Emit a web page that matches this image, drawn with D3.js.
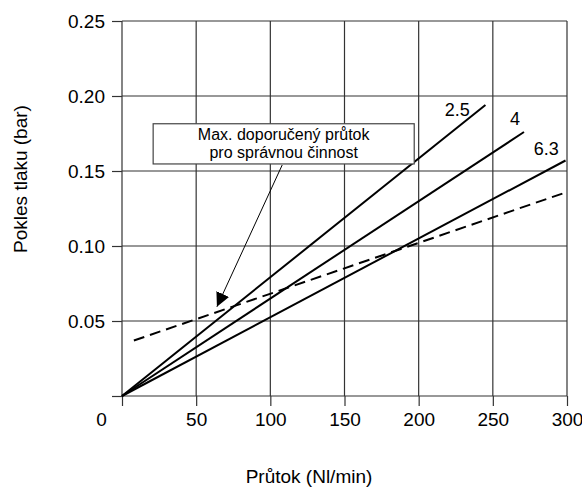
<!DOCTYPE html>
<html>
<head>
<meta charset="utf-8">
<script src="https://cdn.jsdelivr.net/npm/d3@7"></script>
<style>
  body { margin: 0; background: #fff; }
  svg { display: block; font-family: "Liberation Sans", Arial, sans-serif; }
</style>
</head>
<body>
<div id="chart"></div>
<script>
// values
const xTicks = [0, 50, 100, 150, 200, 250, 300];
const yTicks = [0, 0.05, 0.10, 0.15, 0.20, 0.25];

const seriesNames = ["2.5", "4", "6.3"];
const seriesX = [[0, 245], [0, 271], [0, 299]];
const seriesY = [[0, 0.194], [0, 0.176], [0, 0.157]];
// where each series label sits (data units)
const labelX = [226, 265, 286];
const labelY = [0.187, 0.181, 0.161];

// dashed limit line
const limitX = [8, 300];
const limitY = [0.037, 0.136];

const noteLines = ["Max. doporučený průtok", "pro správnou činnost"];
const noteBox = { x0: 21, x1: 197, y0: 0.1815, y1: 0.1547 };
const arrowFrom = [108, 0.154];
const arrowTo = [64, 0.0595];

const width = 582, height = 489;
const margin = { top: 21, right: 15, bottom: 93, left: 122 };

const x = d3.scaleLinear().domain([0, 300]).range([margin.left, width - margin.right]);
const y = d3.scaleLinear().domain([0, 0.25]).range([height - margin.bottom, margin.top]);

const svg = d3.select("#chart").append("svg")
    .attr("width", width)
    .attr("height", height);

svg.append("defs").append("marker")
    .attr("id", "head")
    .attr("viewBox", "0 0 10 10")
    .attr("refX", 10).attr("refY", 5)
    .attr("markerWidth", 14).attr("markerHeight", 14)
    .attr("markerUnits", "userSpaceOnUse")
    .attr("orient", "auto")
    .append("path")
    .attr("d", "M0,0 L10,5 L0,10 Z")
    .attr("fill", "#000");

// grid
const grid = svg.append("g").attr("class", "grid");
grid.selectAll("line.v").data(xTicks).enter().append("line")
    .attr("x1", d => x(d)).attr("x2", d => x(d))
    .attr("y1", y(0.25)).attr("y2", y(0))
    .attr("stroke", "#333").attr("stroke-width", 1.2);
grid.selectAll("line.h").data(yTicks).enter().append("line")
    .attr("x1", x(0)).attr("x2", x(300))
    .attr("y1", d => y(d)).attr("y2", d => y(d))
    .attr("stroke", "#333").attr("stroke-width", 1.2);

// axes
const xAxis = svg.append("g")
    .attr("transform", `translate(0, ${y(0)})`)
    .call(d3.axisBottom(x).tickValues(xTicks).tickSize(10).tickPadding(7).tickFormat(d3.format("d")));
xAxis.select(".domain").remove();
xAxis.selectAll("text").filter(d => d === 0).attr("dx", -21);

const yAxis = svg.append("g")
    .attr("transform", `translate(${x(0)}, 0)`)
    .call(d3.axisLeft(y).tickValues(yTicks).tickSize(10).tickPadding(7)
        .tickFormat(d => d === 0 ? "" : d3.format(".2f")(d)));
yAxis.select(".domain").remove();

svg.selectAll(".tick line").attr("stroke", "#333").attr("stroke-width", 1.2);
svg.selectAll(".tick text")
    .attr("fill", "#000")
    .style("font-size", "19px")
    .style("font-family", "'Liberation Sans', Arial, sans-serif");

// lines
const line = d3.line().x(d => x(d[0])).y(d => y(d[1]));

seriesNames.forEach((name, i) => {
    const pts = seriesX[i].map((v, j) => [v, seriesY[i][j]]);
    svg.append("path")
        .datum(pts)
        .attr("d", line)
        .attr("fill", "none")
        .attr("stroke", "#000")
        .attr("stroke-width", 2);
    svg.append("text")
        .attr("x", x(labelX[i]))
        .attr("y", y(labelY[i]))
        .attr("text-anchor", "middle")
        .style("font-size", "18px")
        .text(name);
});

svg.append("path")
    .datum(limitX.map((v, j) => [v, limitY[j]]))
    .attr("d", line)
    .attr("fill", "none")
    .attr("stroke", "#000")
    .attr("stroke-width", 2)
    .attr("stroke-dasharray", "11,6");

// note with arrow
svg.append("line")
    .attr("x1", x(arrowFrom[0])).attr("y1", y(arrowFrom[1]))
    .attr("x2", x(arrowTo[0])).attr("y2", y(arrowTo[1]))
    .attr("stroke", "#000").attr("stroke-width", 1)
    .attr("marker-end", "url(#head)");

svg.append("rect")
    .attr("x", x(noteBox.x0)).attr("y", y(noteBox.y0))
    .attr("width", x(noteBox.x1) - x(noteBox.x0))
    .attr("height", y(noteBox.y1) - y(noteBox.y0))
    .attr("fill", "#fff")
    .attr("stroke", "#444").attr("stroke-width", 1.2);

svg.append("text")
    .attr("text-anchor", "middle")
    .style("font-size", "16px")
    .selectAll("tspan").data(noteLines).enter().append("tspan")
    .attr("x", (x(noteBox.x0) + x(noteBox.x1)) / 2)
    .attr("y", (d, i) => y(noteBox.y0) + 16.5 + i * 18)
    .text(d => d);

// axis titles
svg.append("text")
    .attr("x", 309).attr("y", 483)
    .attr("text-anchor", "middle")
    .style("font-size", "19px")
    .text("Průtok (Nl/min)");

svg.append("text")
    .attr("transform", "translate(27, 179) rotate(-90)")
    .attr("text-anchor", "middle")
    .style("font-size", "19px")
    .text("Pokles tlaku (bar)");
</script>
</body>
</html>
